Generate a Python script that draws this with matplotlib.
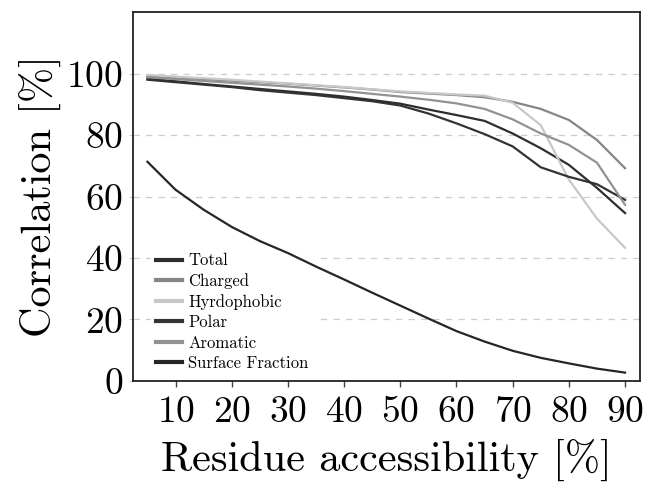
import matplotlib
matplotlib.use("Agg")
import matplotlib.pyplot as plt

plt.rcParams["font.family"] = ["cmr10", "DejaVu Serif"]
plt.rcParams["axes.formatter.use_mathtext"] = True
plt.rcParams["mathtext.fontset"] = "cm"

accessibility = [5, 10, 15, 20, 25, 30, 35, 40, 45, 50, 55, 60, 65, 70, 75, 80, 85, 90]

total = [98.3, 97.5, 96.6, 95.8, 95.0, 94.2, 93.4, 92.5, 91.4, 90.2,
         88.3, 86.5, 84.6, 80.5, 75.7, 70.3, 62.8, 54.6]
charged = [99.2, 98.7, 98.2, 97.7, 97.2, 96.7, 96.1, 95.5, 94.8, 94.0,
           93.5, 93.0, 92.3, 90.8, 88.5, 84.9, 78.4, 69.2]
hydrophobic = [99.5, 99.0, 98.5, 98.0, 97.4, 96.8, 96.2, 95.6, 94.9, 94.2,
               93.7, 93.2, 92.8, 90.5, 83.2, 65.5, 52.8, 43.3]
polar = [98.0, 97.2, 96.4, 95.6, 94.6, 93.8, 93.0, 92.0, 91.0, 89.6,
         87.0, 83.8, 80.3, 76.3, 69.5, 66.4, 64.0, 58.9]
aromatic = [98.8, 98.2, 97.6, 97.0, 96.4, 95.8, 95.1, 94.3, 93.4, 92.5,
            91.5, 90.3, 88.5, 85.1, 80.5, 76.8, 71.0, 57.3]
surface_fraction = [71.3, 62.2, 55.7, 50.1, 45.5, 41.6, 37.2, 33.0, 28.7, 24.5,
                    20.3, 16.2, 12.8, 9.8, 7.5, 5.7, 4.0, 2.7]

series = [
    ("Total", total, "#2e2e2e"),
    ("Charged", charged, "#858585"),
    ("Hyrdophobic", hydrophobic, "#c8c8c8"),
    ("Polar", polar, "#333333"),
    ("Aromatic", aromatic, "#929292"),
    ("Surface Fraction", surface_fraction, "#262626"),
]

x_ticks = [10, 20, 30, 40, 50, 60, 70, 80, 90]
y_ticks = [0, 20, 40, 60, 80, 100]

fig = plt.figure(figsize=(6.48, 4.84), dpi=100)
ax = fig.add_axes([0.205, 0.213, 0.783, 0.762])

for label, values, color in series:
    ax.plot(accessibility, values, color=color, lw=1.6, label=label, zorder=3)

ax.set_xlim(2.4, 92.7)
ax.set_ylim(0, 120)
ax.set_xticks(x_ticks)
ax.set_yticks(y_ticks)
ax.yaxis.grid(True, linestyle=(0, (5, 5)), color="#cccccc", lw=0.9)
ax.set_axisbelow(True)

ax.tick_params(axis="x", direction="out", length=4, width=1, color="#444444",
               labelsize=27, pad=7)
ax.tick_params(axis="y", direction="out", length=3, width=0.8, color="#cccccc",
               labelsize=27, pad=4)
for s in ax.spines.values():
    s.set_linewidth(1.3)
    s.set_color("#222222")

ax.set_xlabel("Residue accessibility [%]", fontsize=30.5, labelpad=7)
ax.set_ylabel("Correlation [%]", fontsize=30.5, labelpad=4)

leg = ax.legend(loc="lower left", bbox_to_anchor=(0.025, 0.0), fontsize=12,
                frameon=True, fancybox=False, edgecolor="white", framealpha=1.0,
                handlelength=1.6, handletextpad=0.36, labelspacing=0.3,
                borderaxespad=0.3, borderpad=0.3)
leg.set_zorder(2)
for h in leg.get_lines():
    h.set_linewidth(3)

fig.savefig("out.png", dpi=100)
